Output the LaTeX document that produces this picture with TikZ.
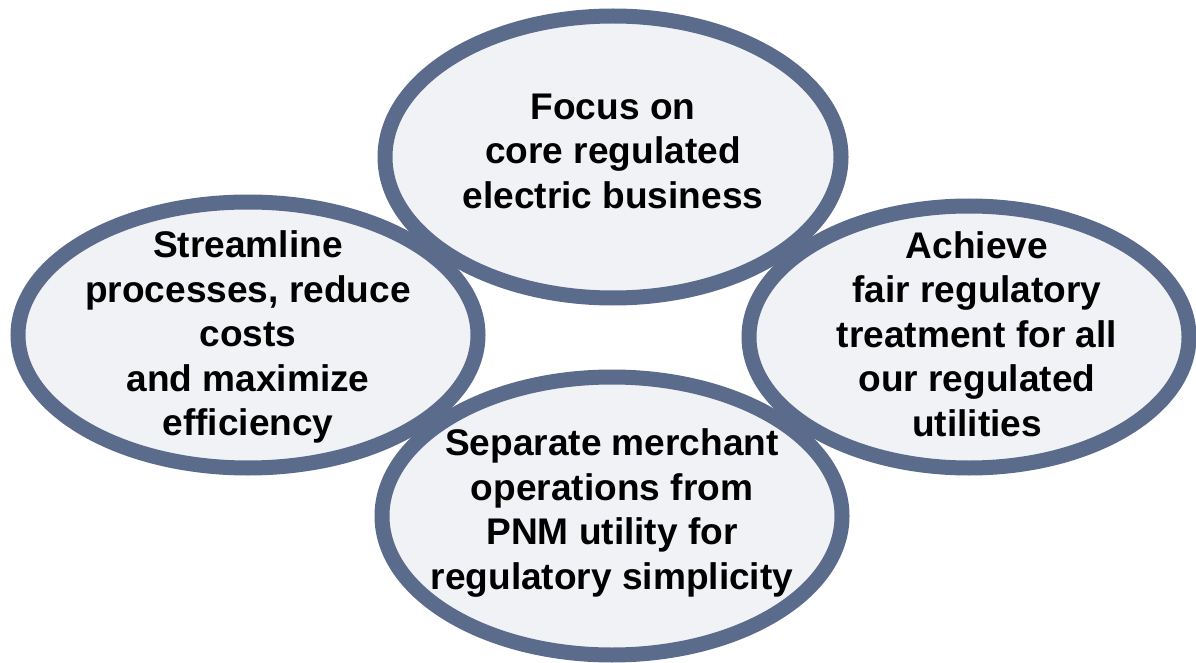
\documentclass[tikz,border=0pt]{standalone}
\usepackage{fontspec}
\setmainfont{Liberation Sans}
\definecolor{ringblue}{RGB}{91,107,140}
\definecolor{ringfill}{RGB}{241,242,246}
\tikzset{
  ring/.style={draw=ringblue,line width=11.25pt},
  goal/.style={align=center,font=\fontsize{27.8}{33.4}\selectfont\bfseries,text=black}
}
\begin{document}
\begin{tikzpicture}[x=0.75pt,y=-0.75pt]
  \useasboundingbox (0,0) rectangle (1196,663);
  % centres of the four ovals
  \coordinate (top) at (613,157);
  \coordinate (left) at (248,335);
  \coordinate (right) at (969,337);
  \coordinate (bottom) at (612,516);
  % fills first, so every outline stays visible
  \foreach \c/\rx/\ry in {top/228/141,left/230/133,right/220/131,bottom/230/139}
    \fill[ringfill] (\c) ellipse[x radius=\rx,y radius=\ry];
  \foreach \c/\rx/\ry in {top/228/141,left/230/133,right/220/131,bottom/230/139}
    \draw[ring] (\c) ellipse[x radius=\rx,y radius=\ry];
  % texts
  \node[goal] (focus) at (613,151) {Focus on\\core regulated\\electric business};
  \node[goal] (streamline) at (248,337) {Streamline\\processes, reduce\\costs\\and maximize\\efficiency};
  \node[goal] (achieve) at (977,334) {Achieve\\fair regulatory\\treatment for all\\our regulated\\utilities};
  \node[goal] (separate) at (612,513) {Separate merchant\\operations from\\PNM utility for\\regulatory simplicity};
\end{tikzpicture}
\end{document}
